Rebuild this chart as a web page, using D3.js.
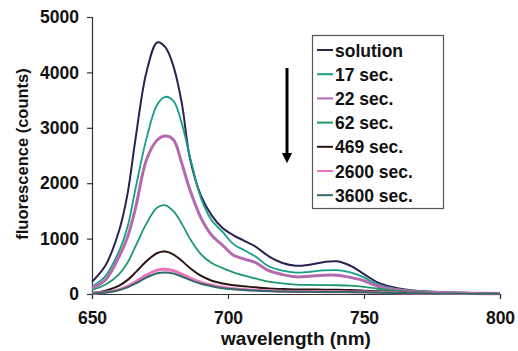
<!DOCTYPE html>
<html>
<head>
<meta charset="utf-8">
<script src="https://cdn.jsdelivr.net/npm/d3@7"></script>
<style>
  body { margin: 0; background: #fff; }
  svg { font-family: "Liberation Sans", Arial, sans-serif; }
</style>
</head>
<body>
<div id="chart"></div>
<script>
// data
const wavelengths = [650,655,660,663,666,670,674,677,680,683,686,690,694,698,702,706,710,715,720,725,730,735,740,745,750,755,760,765,770,780,790,800];
const seriesNames = ["solution", "17 sec.", "22 sec.", "62 sec.", "469 sec.", "2600 sec.", "3600 sec."];
const solution = [222,520,1150,1790,2800,4000,4540,4450,4100,3450,2450,1780,1420,1190,1060,960,860,680,560,510,530,575,590,510,360,210,130,80,55,30,18,12];
const sec17    = [132,330,780,1200,1900,2800,3420,3560,3480,3080,2480,1740,1330,1120,900,790,680,500,420,385,400,425,430,390,300,170,110,70,50,28,16,10];
const sec22    = [108,260,680,1020,1550,2420,2780,2850,2780,2360,1880,1380,1060,880,700,630,570,420,350,310,320,340,340,300,240,140,90,60,40,24,14,9];
const sec62    = [72,170,360,560,860,1270,1560,1600,1490,1270,1000,720,560,470,390,330,280,222,190,170,165,160,158,150,130,95,65,45,32,20,12,8];
const sec469   = [20,60,150,250,390,590,740,765,710,600,470,330,240,190,160,140,120,100,90,82,80,78,75,70,60,48,38,30,24,16,10,6];
const sec2600  = [10,30,80,140,220,340,430,446,420,360,290,210,160,120,95,80,68,58,50,46,44,42,40,38,34,28,22,18,15,10,7,5];
const sec3600  = [8,25,70,120,190,295,375,390,368,315,255,185,140,105,85,72,62,52,45,41,39,37,36,34,30,25,20,16,13,9,6,4];
const xTicks = [650, 700, 750, 800];
const yTicks = [0, 1000, 2000, 3000, 4000, 5000];

const allSeries = [solution, sec17, sec22, sec62, sec469, sec2600, sec3600];
const colors = ["#2b2250", "#159e88", "#b46aae", "#1d9a68", "#2a1410", "#ee72ba", "#2d6b68"];
const widths = [2, 1.8, 3, 1.8, 2, 3, 2];

const width = 518, height = 351;
const svg = d3.select("#chart").append("svg")
  .attr("width", width)
  .attr("height", height);

const x = d3.scaleLinear().domain([650, 800]).range([92, 500]);
const y = d3.scaleLinear().domain([0, 5000]).range([294, 17]);

// axes
const xAxis = svg.append("g")
  .attr("transform", `translate(0,${y(0)})`)
  .call(d3.axisBottom(x).tickValues(xTicks).tickSize(5).tickPadding(13).tickFormat(d3.format("d")));
const yAxis = svg.append("g")
  .attr("transform", `translate(${x(650)},0)`)
  .call(d3.axisLeft(y).tickValues(yTicks).tickSize(5).tickPadding(8).tickFormat(d3.format("d")));

[xAxis, yAxis].forEach(a => {
  a.select(".domain").attr("stroke", "#333").attr("stroke-width", 1.2);
  a.selectAll(".tick line").attr("stroke", "#333").attr("stroke-width", 1.2);
  a.selectAll(".tick text")
    .attr("font-size", 17.5)
    .attr("font-weight", "bold")
    .attr("fill", "#111")
    .attr("font-family", "Liberation Sans, Arial, sans-serif");
});

// curves
const line = d3.line()
  .x((d, i) => x(wavelengths[i]))
  .y(d => y(d))
  .curve(d3.curveCatmullRom);

allSeries.forEach((s, k) => {
  svg.append("path")
    .datum(s)
    .attr("d", line)
    .attr("fill", "none")
    .attr("stroke", colors[k])
    .attr("stroke-width", widths[k])
    .attr("stroke-linejoin", "round");
});

// axis titles
svg.append("text")
  .attr("x", 296)
  .attr("y", 345)
  .attr("text-anchor", "middle")
  .attr("font-size", 19)
  .attr("font-weight", "bold")
  .attr("fill", "#111")
  .text("wavelength (nm)");

svg.append("text")
  .attr("transform", "translate(28,154) rotate(-90)")
  .attr("text-anchor", "middle")
  .attr("font-size", 16.5)
  .attr("font-weight", "bold")
  .attr("fill", "#111")
  .text("fluorescence (counts)");

// arrow
svg.append("defs").append("marker")
  .attr("id", "head")
  .attr("viewBox", "0 0 10 10")
  .attr("refX", 5).attr("refY", 5)
  .attr("markerWidth", 3.5).attr("markerHeight", 4)
  .attr("orient", "auto")
  .append("path")
  .attr("d", "M0,0 L10,5 L0,10 z")
  .attr("fill", "#000");

svg.append("line")
  .attr("x1", 287).attr("y1", 68)
  .attr("x2", 287).attr("y2", 158)
  .attr("stroke", "#000")
  .attr("stroke-width", 3)
  .attr("marker-end", "url(#head)");

// legend
const legend = svg.append("g");
legend.append("rect")
  .attr("x", 312.5).attr("y", 35.5)
  .attr("width", 131).attr("height", 173)
  .attr("fill", "#fff")
  .attr("stroke", "#555")
  .attr("stroke-width", 1.2);

seriesNames.forEach((name, k) => {
  const ly = 50 + k * 24.2;
  legend.append("line")
    .attr("x1", 317).attr("x2", 333)
    .attr("y1", ly).attr("y2", ly)
    .attr("stroke", colors[k])
    .attr("stroke-width", 2);
  legend.append("text")
    .attr("x", 335).attr("y", ly + 6.5)
    .attr("font-size", 17.5)
    .attr("font-weight", "bold")
    .attr("fill", "#111")
    .text(name);
});
</script>
</body>
</html>
